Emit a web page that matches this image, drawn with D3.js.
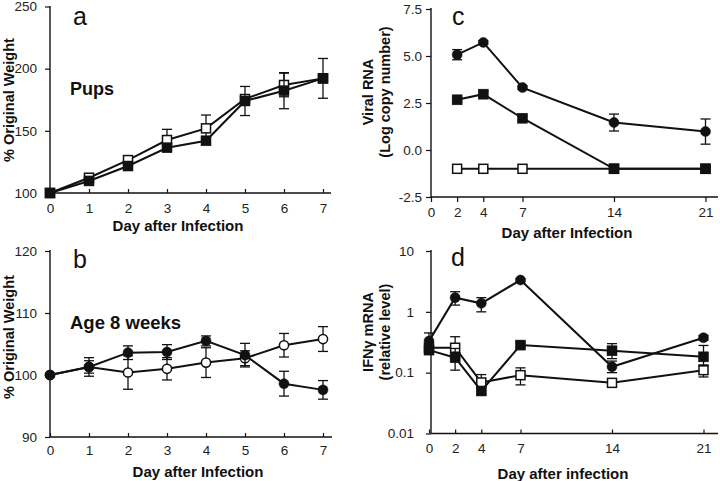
<!DOCTYPE html>
<html>
<head>
<meta charset="utf-8">
<script src="https://cdn.jsdelivr.net/npm/d3@7"></script>
<style>
  html, body { margin: 0; padding: 0; background: #fff; }
  svg { display: block; font-family: "Liberation Sans", Arial, Helvetica, sans-serif; }
  .tick text { font-size: 13.5px; fill: #222; }
</style>
</head>
<body>
<svg id="chart" width="720" height="481"></svg>
<script>
// ---------- data ----------
const daysAB = [0, 1, 2, 3, 4, 5, 6, 7];
const pupsOpen = [100, 112.3, 126.5, 142.6, 152, 175.6, 186.9, 192.2];
const pupsOpenErr = [0, 0, 3.5, 8.6, 10.7, 0, 9.5, 0];
const pupsFilled = [100, 109.7, 121.7, 136.4, 142, 174, 182.3, 192.2];
const pupsFilledErr = [0, 0, 0, 0, 0, 11.7, 14.5, 16];
const ticksA = [100, 150, 200, 250];

const adultOpen = [100, 101.3, 100.4, 101.0, 102.0, 102.7, 104.8, 105.8];
const adultOpenErr = [0, 1.5, 2.7, 1.8, 2.4, 1.2, 1.9, 2.0];
const adultFilled = [100, 101.3, 103.6, 103.7, 105.5, 103.2, 98.6, 97.6];
const adultFilledErr = [0, 1.0, 1.1, 1.2, 0.8, 1.9, 2.0, 1.5];
const ticksB = [90, 100, 110, 120];

const daysC = [2, 4, 7, 14, 21];
const xTicksC = [0, 2, 4, 7, 14, 21];
const viralCircle = [5.07, 5.72, 3.32, 1.46, 0.98];
const viralCircleErr = [0.27, 0.1, 0.1, 0.45, 0.67];
const viralFilledSq = [2.67, 2.97, 1.69, -1.0, -1.0];
const viralFilledSqErr = [0.1, 0.15, 0.1, 0, 0];
const viralOpenSq = [-1.0, -1.0, -1.0, -1.0, -1.0];
const ticksC = [-2.5, 0, 2.5, 5, 7.5];

const daysD = [0, 2, 4, 7, 14, 21];
const ifnCircle = [0.33, 1.71, 1.38, 3.33, 0.125, 0.375];
const ifnCircleLo = [0.30, 1.29, 1.0, 3.1, 0.10, 0.34];
const ifnCircleHi = [0.45, 2.14, 1.71, 3.5, 0.155, 0.41];
const ifnFilledSq = [0.235, 0.176, 0.05, 0.284, 0.229, 0.182];
const ifnFilledSqLo = [0.21, 0.11, 0.045, 0.26, 0.17, 0.13];
const ifnFilledSqHi = [0.26, 0.25, 0.056, 0.31, 0.30, 0.28];
const ifnOpenSq = [0.257, 0.257, 0.069, 0.091, 0.068, 0.11];
const ifnOpenSqLo = [0.23, 0.17, 0.05, 0.063, 0.065, 0.085];
const ifnOpenSqHi = [0.29, 0.39, 0.093, 0.12, 0.072, 0.134];
const ticksD = [0.01, 0.1, 1, 10];

// ---------- drawing ----------
const svg = d3.select("#chart");
svg.append("rect").attr("width", 720).attr("height", 481).attr("fill", "#fff");
const INK = "#111";

function drawAxes(p) {
  const g = svg.append("g");
  // y axis
  const ya = g.append("g").attr("transform", `translate(${p.axisX},0)`)
    .call(d3.axisLeft(p.y).tickValues(p.yTicks).tickSize(5).tickSizeOuter(0).tickPadding(p.yPad).tickFormat(p.yFmt));
  ya.select(".domain").remove();
  ya.selectAll("line").attr("stroke", INK).attr("stroke-width", 1.2);
  ya.selectAll("text").attr("fill", INK);
  g.append("line").attr("x1", p.axisX).attr("x2", p.axisX)
    .attr("y1", p.yTop).attr("y2", p.axisY).attr("stroke", INK).attr("stroke-width", 1.4);
  // x axis
  const xa = g.append("g").attr("transform", `translate(0,${p.axisY})`)
    .call(d3.axisBottom(p.x).tickValues(p.xTicks).tickSize(p.xTickSize).tickSizeOuter(0).tickPadding(p.xPad).tickFormat(d3.format("d")));
  xa.select(".domain").remove();
  xa.selectAll("line").attr("stroke", INK).attr("stroke-width", 1.2);
  xa.selectAll("text").attr("fill", INK).attr("y", null).attr("dy", null)
    .attr("transform", `translate(0,${p.xLabelBase - p.axisY})`);
  xa.selectAll(".tick text").attr("dominant-baseline", "auto");
  g.append("line").attr("x1", p.axisX).attr("x2", p.xEnd)
    .attr("y1", p.axisY).attr("y2", p.axisY).attr("stroke", INK).attr("stroke-width", 1.4);
}

function drawSeries(p, xs, ys, lo, hi, shape, filled) {
  const g = svg.append("g");
  const line = d3.line().x((d, i) => p.x(xs[i])).y(d => p.y(d));
  g.append("path").datum(ys).attr("d", line).attr("fill", "none")
    .attr("stroke", INK).attr("stroke-width", 2);
  // error bars
  ys.forEach((v, i) => {
    if (lo[i] === v && hi[i] === v) return;
    const cx = p.x(xs[i]);
    const y1 = p.y(lo[i]), y2 = p.y(hi[i]);
    g.append("line").attr("x1", cx).attr("x2", cx).attr("y1", y1).attr("y2", y2)
      .attr("stroke", INK).attr("stroke-width", 1.3);
    [y1, y2].forEach(yy => g.append("line").attr("x1", cx - 5).attr("x2", cx + 5)
      .attr("y1", yy).attr("y2", yy).attr("stroke", INK).attr("stroke-width", 1.3));
  });
  // markers
  ys.forEach((v, i) => {
    const cx = p.x(xs[i]), cy = p.y(v);
    if (shape === "square") {
      const s = filled ? 10 : 9;
      g.append("rect").attr("x", cx - s / 2).attr("y", cy - s / 2).attr("width", s).attr("height", s)
        .attr("fill", filled ? INK : "#fff").attr("stroke", INK).attr("stroke-width", filled ? 0.5 : 1.5);
    } else {
      g.append("circle").attr("cx", cx).attr("cy", cy).attr("r", filled ? 5 : 4.6)
        .attr("fill", filled ? INK : "#fff").attr("stroke", INK).attr("stroke-width", filled ? 0.5 : 1.5);
    }
  });
}

function symErr(vals, errs, sign) { return vals.map((v, i) => v + sign * errs[i]); }

function text(x, y, str, size, weight, anchor, rotate) {
  const t = svg.append("text").attr("x", x).attr("y", y).text(str)
    .attr("font-size", size).attr("font-weight", weight).attr("fill", INK)
    .attr("text-anchor", anchor || "start");
  if (rotate) t.attr("transform", `rotate(-90,${x},${y})`);
  return t;
}

// ---- panel a ----
const pA = {
  x: d3.scaleLinear().domain([0, 7]).range([50, 323]),
  y: d3.scaleLinear().domain([100, 250]).range([193, 6.5]),
  axisX: 50, axisY: 193, yTop: 6, xEnd: 331,
  yTicks: ticksA, xTicks: daysAB, yFmt: d3.format("d"), yPad: 8,
  xTickSize: -4, xPad: 10, xLabelBase: 213
};
drawAxes(pA);
drawSeries(pA, daysAB, pupsOpen, symErr(pupsOpen, pupsOpenErr, -1), symErr(pupsOpen, pupsOpenErr, 1), "square", false);
drawSeries(pA, daysAB, pupsFilled, symErr(pupsFilled, pupsFilledErr, -1), symErr(pupsFilled, pupsFilledErr, 1), "square", true);
text(73, 25, "a", 25, "normal");
text(70, 95, "Pups", 18, "bold");
text(178, 231, "Day after Infection", 15, "bold", "middle");
text(14, 100, "% Original Weight", 14.5, "bold", "middle", true);

// ---- panel b ----
const pB = {
  x: d3.scaleLinear().domain([0, 7]).range([50, 323]),
  y: d3.scaleLinear().domain([90, 120]).range([437, 251]),
  axisX: 50, axisY: 437, yTop: 250, xEnd: 332,
  yTicks: ticksB, xTicks: daysAB, yFmt: d3.format("d"), yPad: 8,
  xTickSize: -4, xPad: 10, xLabelBase: 455
};
drawAxes(pB);
drawSeries(pB, daysAB, adultOpen, symErr(adultOpen, adultOpenErr, -1), symErr(adultOpen, adultOpenErr, 1), "circle", false);
drawSeries(pB, daysAB, adultFilled, symErr(adultFilled, adultFilledErr, -1), symErr(adultFilled, adultFilledErr, 1), "circle", true);
text(73, 268, "b", 25, "normal");
text(70, 329, "Age 8 weeks", 18.5, "bold");
text(198, 477, "Day after Infection", 15, "bold", "middle");
text(14, 337, "% Original Weight", 14.5, "bold", "middle", true);

// ---- panel c ----
const pC = {
  x: d3.scaleLinear().domain([0, 21]).range([431, 705.5]),
  y: d3.scaleLinear().domain([-2.5, 7.5]).range([197, 9]),
  axisX: 431, axisY: 197, yTop: 8, xEnd: 718,
  yTicks: ticksC, xTicks: xTicksC, yFmt: d => d.toFixed(1), yPad: 4,
  xTickSize: 5, xPad: 10, xLabelBase: 217
};
drawAxes(pC);
drawSeries(pC, daysC, viralOpenSq, viralOpenSq, viralOpenSq, "square", false);
drawSeries(pC, daysC, viralFilledSq, symErr(viralFilledSq, viralFilledSqErr, -1), symErr(viralFilledSq, viralFilledSqErr, 1), "square", true);
drawSeries(pC, daysC, viralCircle, symErr(viralCircle, viralCircleErr, -1), symErr(viralCircle, viralCircleErr, 1), "circle", true);
text(452, 25, "c", 25, "normal");
text(567, 238, "Day after Infection", 15, "bold", "middle");
text(373, 92, "Viral RNA", 14.5, "bold", "middle", true);
text(390, 92, "(Log copy number)", 14.5, "bold", "middle", true);

// ---- panel d ----
const pD = {
  x: d3.scaleLinear().domain([0, 21]).range([429, 703.5]),
  y: d3.scaleLog().domain([0.01, 10]).range([433.5, 251]),
  axisX: 431, axisY: 433.5, yTop: 250, xEnd: 718,
  yTicks: ticksD, xTicks: daysD, yFmt: d => String(d), yPad: 12,
  xTickSize: -4, xPad: 10, xLabelBase: 453
};
drawAxes(pD);
drawSeries(pD, daysD, ifnOpenSq, ifnOpenSqLo, ifnOpenSqHi, "square", false);
drawSeries(pD, daysD, ifnFilledSq, ifnFilledSqLo, ifnFilledSqHi, "square", true);
drawSeries(pD, daysD, ifnCircle, ifnCircleLo, ifnCircleHi, "circle", true);
text(451, 266, "d", 25, "normal");
text(563, 479, "Day after infection", 15, "bold", "middle");
text(373, 332, "IFNγ mRNA", 14.5, "bold", "middle", true);
text(390, 332, "(relative level)", 14.5, "bold", "middle", true);
</script>
</body>
</html>
